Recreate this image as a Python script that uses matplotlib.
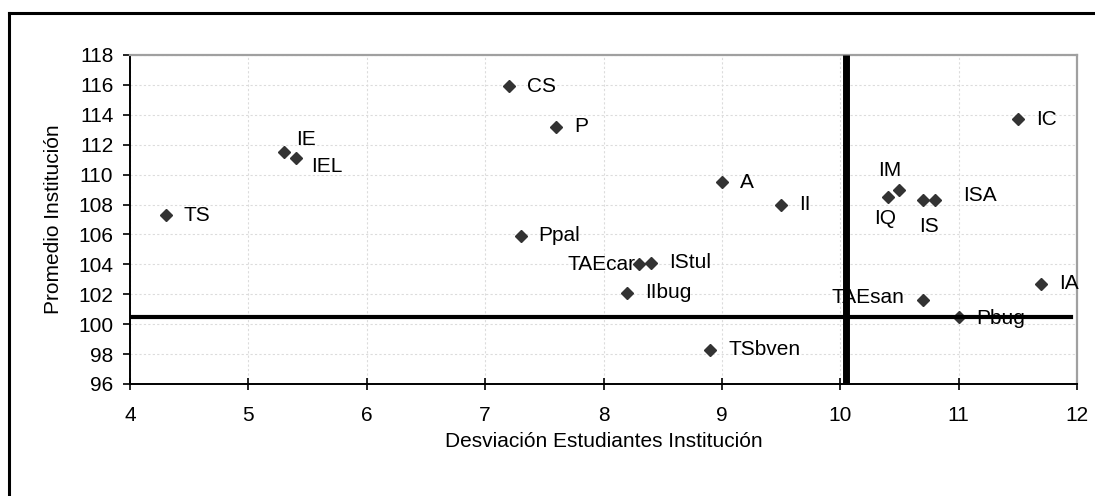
import matplotlib
matplotlib.use("Agg")
import matplotlib.pyplot as plt
from matplotlib.lines import Line2D

plt.rcParams['font.family'] = ['Liberation Sans', 'DejaVu Sans']

# datos
programas = ["TS", "IE", "IEL", "CS", "P", "Ppal", "TAEcar", "IStul", "IIbug",
             "A", "II", "TSbven", "IQ", "IM", "IS", "ISA", "TAEsan", "Pbug",
             "IC", "IA"]
desviacion = [4.3, 5.3, 5.4, 7.2, 7.6, 7.3, 8.3, 8.4, 8.2,
              9.0, 9.5, 8.9, 10.4, 10.5, 10.7, 10.8, 10.7, 11.0,
              11.5, 11.7]
promedio = [107.3, 111.5, 111.1, 115.9, 113.2, 105.9, 104.0, 104.1, 102.1,
            109.5, 108.0, 98.3, 108.5, 109.0, 108.3, 108.3, 101.6, 100.5,
            113.7, 102.7]

# lineas de referencia (media)
ref_x = [10.05, 10.05]
ref_x_y = [96, 118]
ref_y_x = [4, 11.95]
ref_y = [100.45, 100.45]

# posicion de las etiquetas en pixeles (dx, dy hacia abajo, alineacion)
label_pos = {
    "IE": (12, -13, "left"), "IEL": (15, 8, "left"),
    "TAEcar": (-4, 0, "right"), "IM": (-10, -19, "center"),
    "IQ": (-2, 21, "center"), "IS": (6, 26, "center"),
    "ISA": (28, -5, "left"), "TAEsan": (-19, -3, "right"),
    "Pbug": (18, 2, "left"),
}

fig = plt.figure(figsize=(10.95, 4.96), dpi=100)
ax = fig.add_axes([130 / 1095, 1 - 384 / 496, 947 / 1095, 329 / 496])

ax.plot(desviacion, promedio, linestyle="none", marker="D", markersize=6.6,
        color="#333333", zorder=3)

for name, xv, yv in zip(programas, desviacion, promedio):
    dx, dy, ha = label_pos.get(name, (18, 0, "left"))
    ax.annotate(name, (xv, yv), xytext=(dx * 0.72, -dy * 0.72),
                textcoords="offset points", ha=ha, va="center",
                fontsize=15, color="black", zorder=4)

ax.plot(ref_x, ref_x_y, color="black", lw=5, zorder=5, clip_on=False,
        solid_capstyle="butt")
ax.plot(ref_y_x, ref_y, color="black", lw=3, zorder=5)

ax.set_xlim(4, 12)
ax.set_ylim(96, 118)
ax.set_xticks(range(4, 13))
ax.set_yticks(range(96, 119, 2))
ax.grid(True, color="#dcdcdc", lw=0.8, linestyle=(0, (2, 2)))
ax.set_axisbelow(True)

for s in ["top", "right"]:
    ax.spines[s].set_color("#a0a0a0")
    ax.spines[s].set_linewidth(1.6)
for s in ["left", "bottom"]:
    ax.spines[s].set_color("black")
    ax.spines[s].set_linewidth(1.4)

ax.tick_params(axis="y", direction="out", length=5, width=1.2, pad=7,
               labelsize=15)
ax.tick_params(axis="x", direction="inout", length=9, width=1.2, pad=11,
               labelsize=15)

ax.set_xlabel("Desviación Estudiantes Institución", fontsize=15)
ax.set_ylabel("Promedio Institución", fontsize=15)
ax.xaxis.set_label_coords(0.5, -0.146)
ax.yaxis.set_label_coords(-0.071, 0.5)

# marco exterior del grafico
fig.add_artist(Line2D([9 / 1095, 1.0], [1 - 13 / 496, 1 - 13 / 496],
                      color="black", lw=2.2))
fig.add_artist(Line2D([9 / 1095, 9 / 1095], [0.0, 1 - 13 / 496],
                      color="black", lw=2.2))

fig.savefig("out.png", dpi=100)
